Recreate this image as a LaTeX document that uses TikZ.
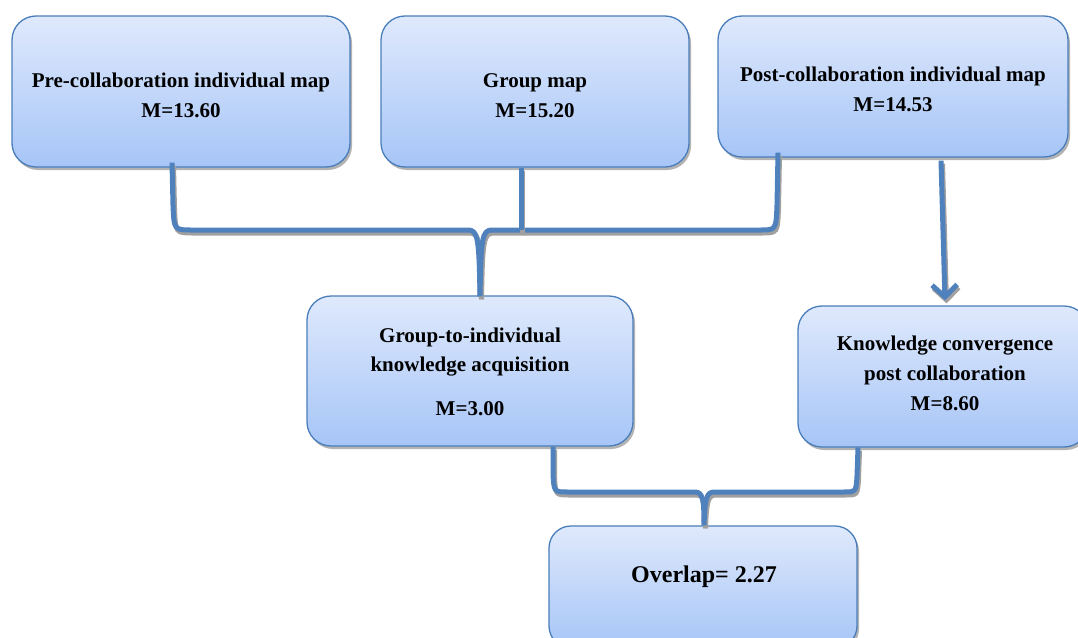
\documentclass[tikz,border=0pt]{standalone}
\usepackage{fontspec}
\setmainfont{Liberation Serif}
\usetikzlibrary{arrows.meta,shadows,calc}
\definecolor{boxedge}{HTML}{4A7EBB}
\definecolor{boxtop}{HTML}{DFE9FC}
\definecolor{boxbot}{HTML}{A6C5F7}
\definecolor{link}{HTML}{4F81BD}
\definecolor{shade}{HTML}{A0A0A0}
\tikzset{
  box/.style={draw=boxedge, line width=1.3pt, rounded corners=24pt,
    top color=boxtop, bottom color=boxbot,
    drop shadow={shadow xshift=2pt, shadow yshift=-3pt, fill=shade, opacity=0.8}},
  lbl/.style={align=center, font=\fontsize{21}{30}\selectfont\bfseries, inner sep=0pt},
  conn/.style={draw=link, line width=5pt, line cap=butt, line join=round,
    preaction={draw=shade, line width=5pt, transform canvas={shift={(1.5pt,-3pt)}}}},
}
\begin{document}
\begin{tikzpicture}[x=1pt,y=-1pt]
\useasboundingbox (0,0) rectangle (1078,637);
\clip (0,0) rectangle (1078,637);
\fill[white] (0,0) rectangle (1078,637);

% boxes
\node[box, minimum width=338pt, minimum height=151pt] (b1) at (181,91.5) {};
\node[box, minimum width=308pt, minimum height=151pt] (b2) at (535,91.5) {};
\node[box, minimum width=350pt, minimum height=141pt] (b3) at (893,86.5) {};
\node[box, minimum width=326pt, minimum height=150pt] (b4) at (470,371) {};
\node[box, minimum width=290pt, minimum height=141pt] (b5) at (943,376.5) {};
\node[box, minimum width=308pt, minimum height=122pt, rounded corners=22pt] (b6) at (703,587) {};

% labels
\node[lbl] (t1) at (181,95.5) {Pre-collaboration individual map\\M=13.60};
\node[lbl] (t2) at (535,95.5) {Group map\\M=15.20};
\node[lbl] (t3) at (893,89.5) {Post-collaboration individual map\\M=14.53};
\node[lbl, font=\fontsize{21}{29}\selectfont\bfseries] (t4) at (470,371.5) {Group-to-individual\\knowledge acquisition\\[15pt]M=3.00};
\node[lbl, font=\fontsize{21}{30}\selectfont\bfseries] (t5) at (945,373) {Knowledge convergence\\post collaboration\\M=8.60};
\node[lbl, font=\fontsize{24}{30}\selectfont\bfseries] (t6) at (704,577) {Overlap= 2.27};

% joining points
\coordinate (j1) at ($(b4.north)+(10,1)$);
\coordinate (j2) at ($(b6.north)+(1,0)$);

% three maps joined into the acquisition box
\path[conn] ($(b1.south)+(-9,-5)$) -- (173,205) .. controls (174,230) .. (192,230)
  -- (468,230) .. controls (478,230) and (479,238) .. (j1);
\path[conn] ($(b3.south)+(-115,-5)$) -- (777,205) .. controls (776,230) .. (760,230)
  -- (492,230) .. controls (482,230) and (481,238) .. (j1);
\path[conn] ($(b2.south)+(-14,0)$) -- (521,230);

% post map to convergence box
\path[conn, -{Straight Barb[length=12pt,width=25pt]}] ($(b3.south)+(48,3)$) -- ($(b5.north)+(2,-5)$);

% both measures joined into the overlap box
\path[conn] ($(b4.south)+(83,0)$) -- (553,474) .. controls (554,492) .. (568,492)
  -- (695,492) .. controls (703,492) and (704,500) .. (j2);
\path[conn] ($(b5.south)+(-85,0)$) -- (857,476) .. controls (856,492) .. (843,492)
  -- (714,492) .. controls (706,492) and (705,500) .. (j2);
\end{tikzpicture}
\end{document}
